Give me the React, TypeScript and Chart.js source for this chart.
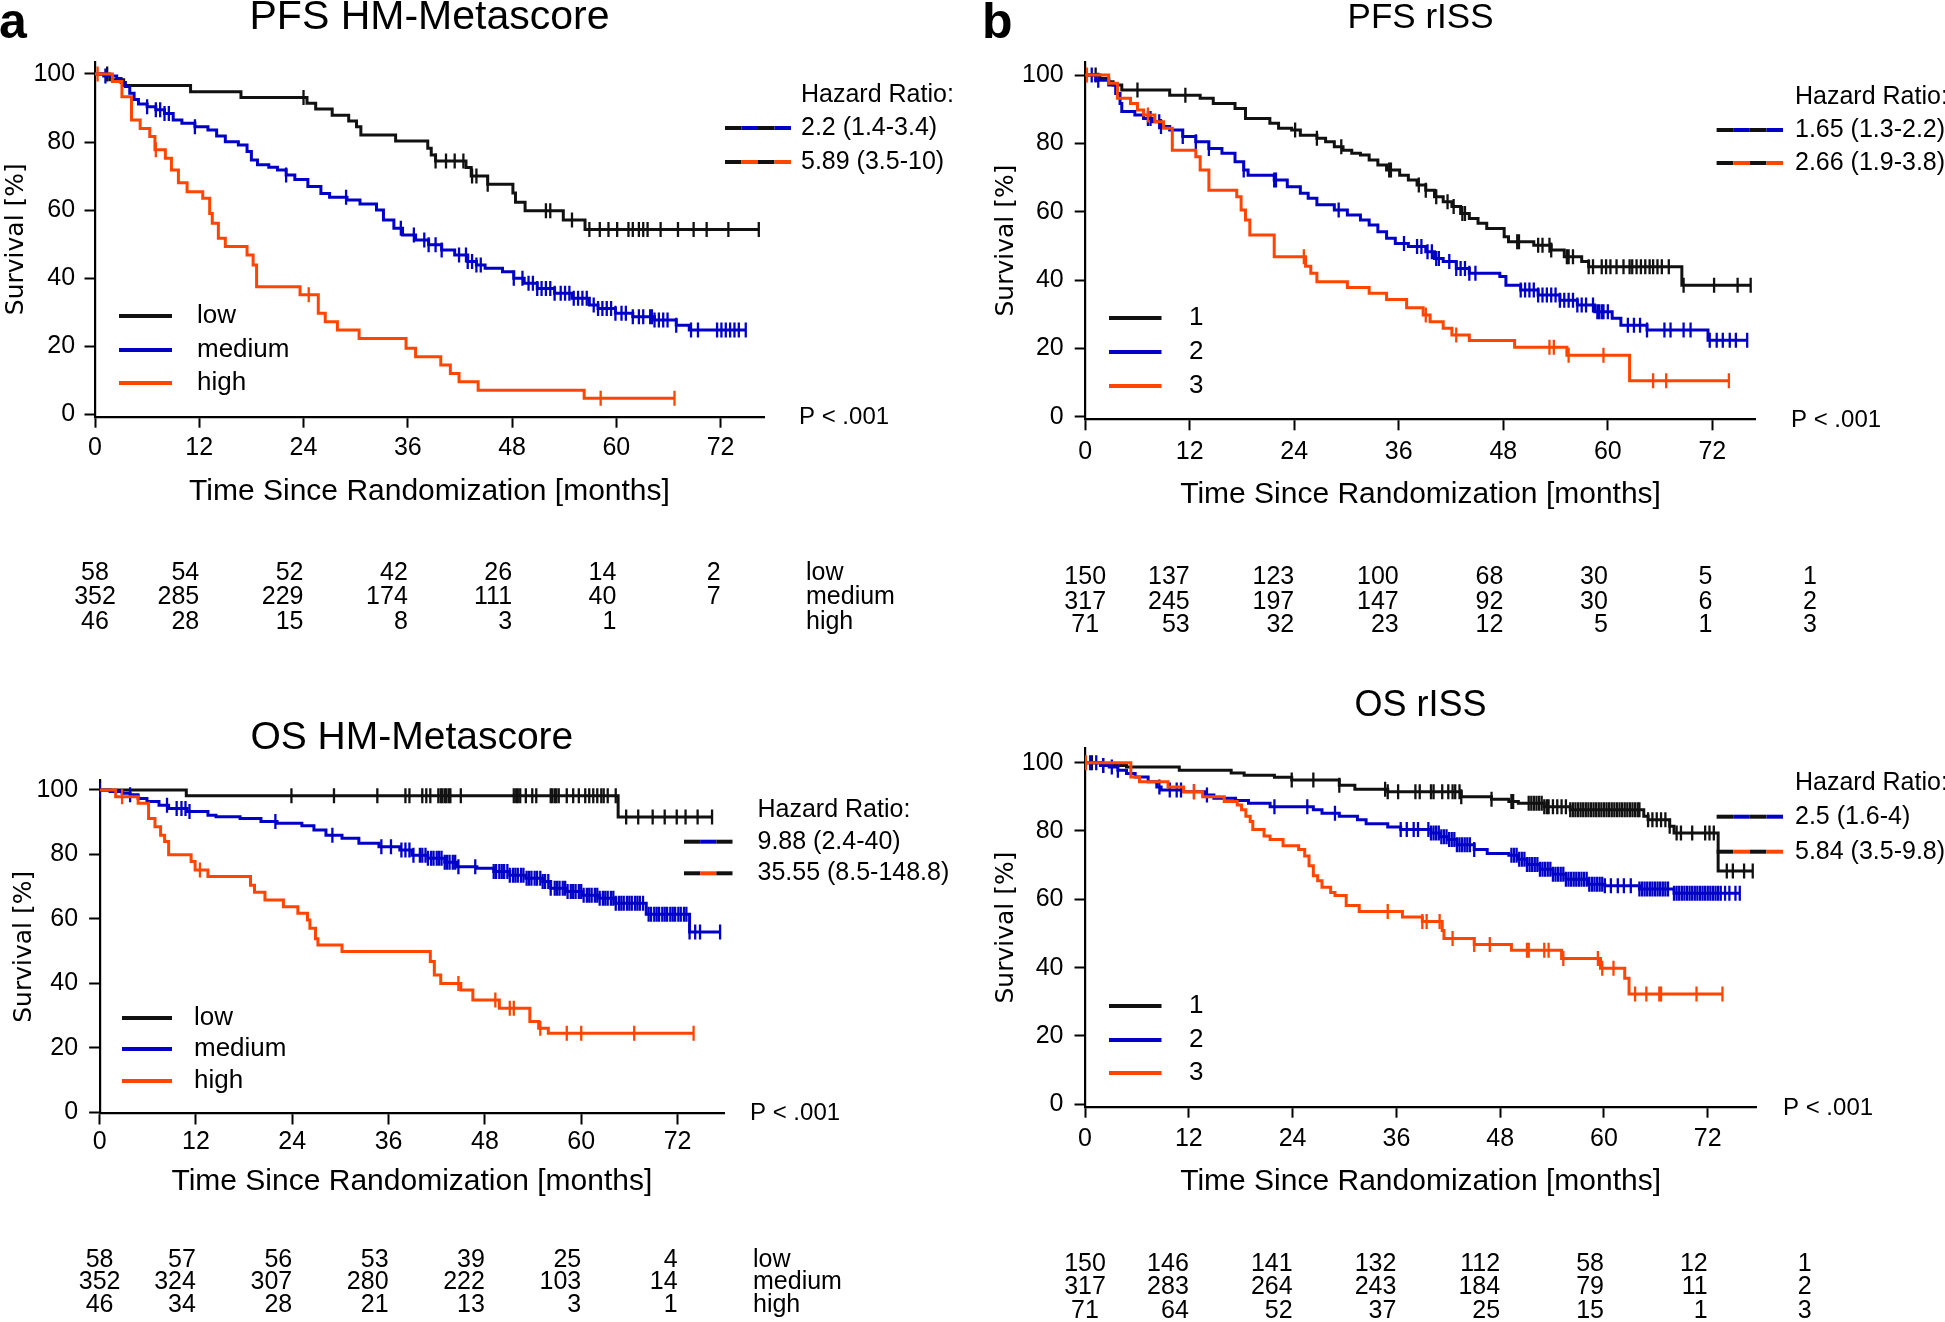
import React, { useEffect, useRef } from "react";
import { Chart, registerables } from "chart.js";

Chart.register(...registerables);

const FONT = '"Liberation Sans", Arial, Helvetica, sans-serif';
const YFONT = '"DejaVu Sans", Verdana, sans-serif';
const BLACK = "#111111";
const BLUE = "#0000c8";
const ORANGE = "#ff4500";

const X_TICKS = [0, 12, 24, 36, 48, 60, 72];
const Y_TICKS = [0, 20, 40, 60, 80, 100];
const RISK_TIMES = [0, 12, 24, 36, 48, 60, 72];
const X_LABEL = "Time Since Randomization [months]";
const Y_LABEL = "Survival [%]";

// ================= Panel a: PFS HM-Metascore =================
const A_LOW_T = [1.7, 3.3, 11.0, 16.8, 24.4, 25.4, 27.3, 29.2, 30.1, 30.6, 34.6, 38.3, 38.7, 39.2, 42.7, 43.3, 45.2, 48.1, 48.4, 49.5, 53.9, 56.4];
const A_LOW_S = [98.3, 96.6, 94.8, 93.1, 91.4, 89.7, 87.9, 86.2, 84.5, 82.1, 80.3, 78.2, 76.2, 74.4, 72.5, 70.0, 67.6, 65.0, 62.3, 59.8, 57.1, 54.3];
const A_LOW_END = 76.4;
const A_LOW_C = [1.4, 24.0, 39.2, 40.4, 41.4, 42.4, 43.4, 43.9, 45.2, 51.9, 52.4, 54.9, 56.9, 58.1, 59.1, 60.1, 61.4, 61.9, 62.6, 63.1, 63.6, 65.1, 67.1, 68.9, 70.4, 72.9, 76.4];

const A_MED_T = [1.0, 2.5, 3.0, 3.5, 4.0, 4.5, 5.0, 6.0, 7.0, 8.0, 9.0, 10.0, 11.5, 13.0, 14.0, 15.0, 16.5, 17.5, 18.0, 18.7, 20.0, 21.0, 22.0, 23.0, 24.5, 26.0, 27.0, 29.0, 30.5, 32.4, 33.2, 34.4, 35.4, 36.9, 38.4, 39.9, 41.4, 42.9, 43.9, 44.9, 46.9, 48.2, 49.4, 50.9, 52.9, 54.9, 56.9, 57.9, 59.9, 61.9, 64.4, 66.9, 68.4];
const A_MED_S = [99.4, 98.7, 97.5, 96.3, 94.3, 92.5, 91.2, 90.4, 89.5, 88.4, 86.5, 85.5, 84.5, 83.5, 81.8, 80.1, 79.1, 77.2, 74.7, 73.3, 72.6, 71.8, 70.3, 69.0, 66.9, 64.9, 63.8, 63.0, 61.8, 60.0, 57.1, 54.7, 52.7, 51.2, 49.8, 48.3, 46.8, 44.9, 43.9, 42.9, 41.9, 40.0, 38.5, 37.0, 35.6, 34.1, 32.1, 31.1, 29.7, 28.7, 27.7, 26.2, 24.8];
const A_MED_END = 74.9;
const A_MED_C = [1.2, 6.0, 7.0, 7.5, 8.0, 8.5, 11.5, 22.0, 28.9, 35.2, 36.7, 37.9, 38.4, 39.2, 39.9, 41.9, 42.7, 42.9, 43.4, 43.9, 44.4, 48.2, 49.2, 49.9, 50.4, 50.9, 51.4, 51.9, 52.4, 52.9, 53.6, 54.1, 54.6, 55.1, 55.6, 56.1, 56.6, 57.4, 57.9, 58.4, 58.9, 59.4, 59.9, 60.6, 61.1, 61.9, 62.6, 63.1, 63.9, 64.1, 64.4, 64.9, 65.4, 65.9, 66.9, 68.6, 69.4, 71.6, 72.1, 72.6, 73.1, 73.6, 74.1, 74.9];

const A_HIGH_T = [2.0, 3.1, 4.2, 5.2, 6.3, 6.9, 8.1, 8.8, 9.6, 10.6, 12.4, 13.2, 13.5, 14.2, 15.0, 17.5, 18.2, 18.6, 23.6, 25.7, 26.5, 27.9, 30.4, 35.8, 36.9, 39.8, 40.9, 41.9, 44.1, 56.3];
const A_HIGH_S = [97.8, 93.3, 86.5, 84.0, 81.6, 77.7, 75.2, 71.8, 68.0, 65.4, 63.5, 59.0, 56.1, 51.7, 49.3, 46.8, 43.9, 37.5, 35.1, 29.7, 27.2, 24.8, 22.3, 19.4, 16.9, 14.5, 12.0, 9.6, 7.1, 4.7];
const A_HIGH_END = 66.7;
const A_HIGH_C = [0.3, 7.0, 24.6, 58.2, 66.7];

const A_RISK_LOW = [58, 54, 52, 42, 26, 14, 2];
const A_RISK_MED = [352, 285, 229, 174, 111, 40, 7];
const A_RISK_HIGH = [46, 28, 15, 8, 3, 1];
const A_HR = ["Hazard Ratio:", "2.2 (1.4-3.4)", "5.89 (3.5-10)"];

// ================= Panel b: PFS rISS =================
const B1_T = [1.7, 2.7, 3.2, 4.2, 9.7, 13.2, 14.7, 17.2, 18.4, 21.2, 22.2, 23.7, 24.7, 26.6, 27.6, 28.6, 29.6, 30.6, 31.6, 32.6, 33.6, 34.6, 36.1, 37.1, 38.1, 39.1, 40.1, 41.1, 42.1, 43.1, 44.1, 45.1, 46.1, 48.1, 48.6, 51.5, 53.5, 55.0, 57.0, 57.8, 68.5];
const B1_S = [99.0, 98.0, 97.1, 95.6, 94.1, 93.2, 91.7, 90.2, 87.3, 85.9, 84.4, 83.9, 82.4, 81.5, 80.5, 79.0, 78.0, 77.1, 76.6, 75.1, 73.7, 72.2, 70.7, 69.3, 67.8, 66.3, 64.4, 62.9, 61.5, 59.5, 58.0, 56.6, 55.1, 52.7, 51.2, 50.2, 48.8, 46.8, 45.4, 43.9, 38.5];
const B1_END = 76.4;
const B1_C = [1.2, 6.0, 11.5, 24.1, 26.6, 29.4, 34.9, 35.1, 38.3, 39.1, 40.3, 41.6, 42.3, 43.3, 43.6, 49.6, 49.8, 52.0, 52.5, 53.3, 53.5, 55.3, 55.5, 56.0, 57.8, 58.3, 59.3, 59.8, 60.3, 61.0, 61.8, 62.5, 62.8, 63.3, 63.8, 64.3, 64.8, 65.2, 65.7, 66.2, 67.0, 68.7, 72.2, 74.9, 76.4];

const B2_T = [1.2, 2.7, 3.5, 4.0, 4.2, 5.7, 6.7, 7.7, 8.7, 9.7, 11.2, 12.7, 14.2, 15.7, 17.2, 18.2, 18.7, 21.7, 23.2, 24.7, 25.6, 26.6, 28.6, 30.1, 31.6, 32.6, 33.6, 34.6, 35.6, 37.1, 39.1, 40.1, 41.1, 42.6, 44.1, 47.6, 48.3, 50.0, 52.0, 54.5, 56.5, 58.5, 60.5, 61.5, 64.5, 71.5];
const B2_S = [98.5, 97.1, 94.6, 91.7, 89.3, 88.3, 87.3, 86.3, 84.9, 83.9, 82.0, 80.5, 78.5, 77.1, 74.6, 72.2, 70.7, 69.3, 67.3, 65.4, 63.9, 62.0, 60.5, 59.0, 57.6, 56.1, 54.1, 52.2, 50.7, 49.8, 48.3, 46.3, 45.4, 43.4, 42.0, 41.0, 38.5, 37.1, 35.6, 34.1, 32.7, 30.7, 28.8, 26.8, 25.4, 22.4];
const B2_END = 76.0;
const B2_C = [0.75, 1.5, 7.2, 7.5, 8.5, 8.7, 11.2, 12.7, 14.2, 18.2, 21.7, 21.9, 29.1, 36.6, 38.1, 38.6, 39.3, 39.8, 40.3, 40.6, 41.8, 42.6, 43.1, 43.6, 44.1, 44.8, 50.0, 50.5, 51.0, 51.5, 52.0, 52.5, 53.0, 53.5, 54.0, 54.5, 55.0, 55.5, 56.0, 56.5, 57.0, 57.5, 58.3, 58.8, 59.0, 59.3, 59.5, 60.0, 62.3, 63.0, 63.7, 64.5, 66.5, 67.2, 68.7, 69.5, 71.7, 72.5, 73.2, 74.0, 74.7, 76.0];

const B3_T = [2.7, 3.7, 5.2, 6.0, 6.7, 8.0, 9.0, 10.0, 12.7, 13.2, 14.2, 17.4, 17.9, 18.4, 18.9, 21.7, 25.3, 25.9, 26.6, 30.1, 32.6, 34.6, 36.9, 38.8, 39.6, 41.1, 42.1, 44.1, 49.3, 55.3, 62.5];
const B3_S = [97.6, 93.2, 91.7, 89.8, 88.3, 86.3, 84.4, 78.0, 76.1, 72.2, 66.3, 64.4, 60.5, 57.6, 53.2, 46.8, 44.0, 42.0, 39.5, 37.8, 36.1, 34.3, 31.9, 29.8, 27.8, 25.9, 23.9, 22.3, 20.3, 18.0, 10.5];
const B3_END = 73.9;
const B3_C = [0.2, 7.2, 25.1, 39.1, 42.6, 53.3, 53.8, 55.5, 59.5, 65.2, 66.7, 73.9];

const B_RISK_1 = [150, 137, 123, 100, 68, 30, 5];
const B_RISK_2 = [317, 245, 197, 147, 92, 30, 6];
const B_RISK_3 = [71, 53, 32, 23, 12, 5, 1];
const B_HR = ["Hazard Ratio:", "1.65 (1.3-2.2)", "2.66 (1.9-3.8)"];

// ================= Panel c: OS HM-Metascore =================
const C_LOW_T = [10.8, 64.6];
const C_LOW_S = [98.2, 91.6];
const C_LOW_END = 76.3;
const C_LOW_C = [0.0, 23.9, 29.2, 34.6, 38.1, 38.6, 40.2, 40.7, 41.2, 42.2, 42.5, 42.7, 43.0, 43.2, 43.5, 43.7, 45.0, 51.6, 51.9, 52.1, 52.4, 53.1, 53.9, 54.4, 56.2, 56.4, 56.7, 56.9, 57.2, 58.2, 59.0, 59.7, 60.5, 61.0, 61.5, 62.0, 62.5, 62.8, 63.3, 64.3, 65.6, 67.1, 68.9, 70.4, 71.9, 73.0, 74.5, 76.3];

const C_MED_T = [1.3, 2.8, 3.8, 4.8, 5.9, 7.4, 8.6, 10.9, 13.5, 14.5, 17.5, 20.1, 22.1, 25.2, 26.7, 28.2, 30.2, 32.3, 34.8, 37.4, 38.9, 40.9, 43.0, 44.5, 47.0, 49.1, 51.1, 53.1, 55.2, 56.2, 58.2, 60.2, 62.3, 64.3, 68.1, 73.5];
const C_MED_S = [99.5, 99.0, 98.5, 97.4, 96.4, 95.3, 94.3, 93.3, 92.2, 91.7, 91.2, 90.2, 89.7, 88.9, 87.6, 86.0, 85.0, 83.5, 82.4, 81.4, 79.8, 78.8, 77.6, 76.2, 75.7, 74.7, 73.6, 72.6, 71.6, 69.5, 68.5, 67.4, 66.4, 64.9, 61.5, 56.0];
const C_MED_END = 77.3;
const C_MED_C = [0.0, 3.8, 8.4, 9.6, 10.2, 10.7, 11.2, 21.9, 29.0, 35.1, 36.3, 37.6, 38.1, 38.6, 39.1, 39.9, 40.2, 40.6, 40.9, 41.3, 41.6, 42.0, 42.3, 42.6, 43.0, 43.3, 43.6, 44.0, 44.3, 44.7, 46.8, 49.1, 49.4, 49.8, 50.1, 50.4, 50.8, 51.1, 51.5, 51.8, 52.1, 52.5, 52.8, 53.2, 53.5, 53.8, 54.2, 54.5, 54.9, 55.2, 55.5, 55.9, 56.2, 56.7, 57.0, 57.3, 57.7, 58.0, 58.3, 58.7, 59.0, 59.3, 59.7, 60.0, 60.3, 60.7, 61.0, 61.3, 61.7, 62.0, 62.3, 62.7, 63.0, 63.3, 63.7, 64.0, 64.3, 64.7, 65.0, 65.3, 65.7, 66.0, 66.3, 66.7, 67.0, 67.3, 67.7, 68.4, 68.7, 69.1, 69.4, 69.7, 70.1, 70.4, 70.7, 71.1, 71.4, 71.7, 72.1, 72.4, 72.8, 73.1, 73.5, 74.2, 74.8, 77.3];

const C_HIGH_T = [2.0, 4.8, 6.1, 6.9, 7.6, 8.1, 8.6, 11.4, 11.9, 13.5, 18.8, 19.3, 20.6, 22.9, 24.7, 25.9, 26.2, 26.9, 27.2, 30.2, 41.2, 41.7, 42.5, 45.0, 46.5, 49.8, 53.6, 54.7, 55.9];
const C_HIGH_S = [97.9, 95.9, 91.2, 88.6, 86.0, 84.0, 79.9, 77.8, 75.2, 73.2, 70.5, 68.3, 65.9, 63.8, 61.8, 59.7, 57.1, 53.9, 51.9, 49.9, 46.8, 42.6, 40.0, 38.0, 34.9, 32.3, 28.2, 26.1, 24.6];
const C_HIGH_END = 74.0;
const C_HIGH_C = [2.8, 12.5, 44.7, 49.3, 51.1, 51.6, 54.9, 58.2, 60.0, 66.6, 74.0];

const C_RISK_LOW = [58, 57, 56, 53, 39, 25, 4];
const C_RISK_MED = [352, 324, 307, 280, 222, 103, 14];
const C_RISK_HIGH = [46, 34, 28, 21, 13, 3, 1];
const C_HR = ["Hazard Ratio:", "9.88 (2.4-40)", "35.55 (8.5-148.8)"];

// ================= Panel d: OS rISS =================
const D1_T = [1.8, 4.8, 10.9, 16.9, 18.4, 21.9, 23.9, 29.4, 31.2, 35.0, 43.5, 47.0, 49.0, 50.1, 53.1, 56.1, 64.6, 65.1, 67.6, 68.1, 73.2];
const D1_S = [99.2, 98.7, 97.8, 97.0, 96.3, 95.7, 94.9, 93.4, 92.2, 91.5, 90.0, 89.3, 88.6, 88.1, 87.1, 86.2, 84.3, 83.3, 81.4, 79.4, 68.3];
const D1_END = 77.2;
const D1_C = [0.8, 2.1, 23.9, 26.4, 29.4, 34.7, 35.0, 36.2, 38.2, 38.7, 40.0, 40.3, 41.3, 42.0, 42.5, 42.8, 43.3, 43.5, 47.0, 49.3, 49.5, 51.3, 51.6, 51.9, 52.2, 52.5, 52.8, 53.1, 53.4, 53.6, 54.1, 54.6, 55.1, 55.6, 56.1, 56.4, 56.7, 57.0, 57.3, 57.6, 57.9, 58.2, 58.5, 58.8, 59.1, 59.4, 59.7, 60.0, 60.3, 60.6, 60.9, 61.2, 61.5, 61.8, 62.1, 62.4, 62.7, 63.0, 63.3, 63.6, 63.9, 64.1, 65.1, 65.6, 66.1, 66.6, 67.1, 67.6, 68.4, 68.9, 70.2, 71.7, 72.2, 72.7, 74.2, 74.9, 76.2, 77.2];

const D2_T = [1.8, 2.8, 3.8, 4.8, 5.8, 7.3, 8.3, 8.8, 11.4, 13.9, 14.9, 17.4, 18.9, 21.4, 26.4, 27.4, 29.4, 31.5, 32.5, 35.0, 36.5, 40.0, 41.0, 42.0, 43.0, 45.0, 46.5, 49.0, 50.1, 51.1, 52.6, 54.1, 55.6, 58.1, 60.1, 64.1, 68.1];
const D2_S = [99.2, 98.7, 97.8, 96.8, 95.8, 94.4, 92.9, 92.0, 91.5, 90.5, 89.6, 88.9, 88.1, 87.1, 86.2, 85.2, 84.3, 83.3, 82.1, 81.2, 80.4, 79.4, 78.3, 77.5, 76.0, 74.6, 73.4, 72.9, 71.7, 70.2, 68.8, 67.3, 65.9, 64.4, 64.0, 63.0, 61.8];
const D2_END = 75.7;
const D2_C = [0.6, 1.3, 2.1, 3.1, 3.8, 8.6, 9.8, 10.6, 11.1, 12.6, 14.1, 21.9, 25.7, 28.9, 36.5, 37.2, 38.0, 38.5, 39.7, 40.0, 40.3, 40.6, 40.9, 41.2, 41.5, 41.8, 42.1, 42.4, 42.7, 43.0, 43.3, 43.6, 43.9, 44.2, 44.5, 45.0, 49.3, 49.6, 49.9, 50.2, 50.5, 50.8, 51.1, 51.4, 51.7, 52.0, 52.3, 52.6, 52.9, 53.2, 53.5, 53.8, 54.1, 54.4, 54.7, 55.0, 55.3, 55.6, 55.9, 56.2, 56.5, 56.8, 57.1, 57.4, 57.7, 58.0, 58.3, 58.6, 58.9, 59.2, 59.5, 59.8, 60.1, 60.8, 61.6, 62.3, 63.1, 64.1, 64.4, 64.7, 65.0, 65.3, 65.6, 65.9, 66.2, 66.5, 66.8, 67.1, 67.4, 68.1, 68.4, 68.7, 69.0, 69.3, 69.6, 69.9, 70.2, 70.5, 70.8, 71.1, 71.4, 71.7, 72.0, 72.3, 72.6, 72.9, 73.2, 73.5, 74.0, 74.5, 75.2, 75.7];

const D3_T = [5.3, 6.3, 9.6, 11.4, 13.6, 16.1, 17.6, 18.1, 18.6, 19.1, 19.4, 20.7, 21.4, 22.9, 24.7, 25.4, 25.9, 26.4, 26.9, 27.4, 28.4, 28.9, 30.2, 31.7, 36.7, 39.0, 41.3, 41.5, 45.0, 49.3, 55.1, 59.6, 62.4, 62.9];
const D3_S = [95.8, 94.4, 92.9, 91.5, 90.0, 88.6, 87.6, 86.2, 84.3, 82.8, 80.4, 78.5, 77.5, 75.7, 74.6, 72.7, 69.8, 66.9, 65.4, 63.5, 62.0, 61.1, 58.2, 56.4, 54.8, 53.5, 50.9, 48.5, 46.8, 45.1, 42.7, 39.8, 36.9, 32.3];
const D3_END = 73.7;
const D3_C = [0.1, 12.6, 35.0, 39.0, 39.5, 41.0, 42.5, 45.0, 46.8, 51.1, 51.3, 53.1, 53.6, 55.3, 59.3, 59.8, 61.1, 63.6, 64.9, 66.4, 66.6, 70.7, 73.7];

const D_RISK_1 = [150, 146, 141, 132, 112, 58, 12];
const D_RISK_2 = [317, 283, 264, 243, 184, 79, 11];
const D_RISK_3 = [71, 64, 52, 37, 25, 15, 1];
const D_HR = ["Hazard Ratio:", "2.5 (1.6-4)", "5.84 (3.5-9.8)"];

const HM_LABELS = ["low", "medium", "high"];
const ISS_LABELS = ["1", "2", "3"];

// ================= helpers =================
function survAt(t: number[], s: number[], x: number) {
  let v = 100;
  for (let i = 0; i < t.length; i++) if (t[i] <= x) v = s[i];
  return v;
}

function curve(t: number[], s: number[], end: number, c: number[], color: string) {
  return { t, s, end, c, color };
}

function stepData(cv: any) {
  const pts = [{ x: 0, y: 100 }];
  cv.t.forEach((tt: number, i: number) => pts.push({ x: tt, y: cv.s[i] }));
  pts.push({ x: cv.end, y: cv.s[cv.s.length - 1] });
  return pts;
}

const XH = 100;

const PANELS: any[] = [
  {
    L: 0, T: 0, W: 972, H: 660,
    cl: 95, cr: 764, ct: 61.7, cb: 416.7, xmax: 77, ymin: -0.7, ymax: 103.6,
    title: "PFS HM-Metascore", titleY: 18, titleSize: 41,
    letter: "a", letterX: -1, letterY: 38,
    yTitleX: 16, yTickPad: 9.4, xTickPad: 7.8, xTitleY: 492,
    curves: [
      curve(A_LOW_T, A_LOW_S, A_LOW_END, A_LOW_C, BLACK),
      curve(A_MED_T, A_MED_S, A_MED_END, A_MED_C, BLUE),
      curve(A_HIGH_T, A_HIGH_S, A_HIGH_END, A_HIGH_C, ORANGE),
    ],
    legendLabels: HM_LABELS, legendX0: 119, legendX1: 172, legendTX: 197, legendY: [316, 350, 383],
    hrTexts: A_HR, hrX: 801, hrY: [95, 128, 162], hrSX0: 725, hrSX1: 791, hrSegs: 4,
    pX: 799, pY: 417,
    risk: [A_RISK_LOW, A_RISK_MED, A_RISK_HIGH], riskY: [572.7, 596.7, 621.7], riskLabels: HM_LABELS, riskLabelX: 806,
  },
  {
    L: 972, T: 0, W: 973, H: 660,
    cl: 1085.2, cr: 1755.9, ct: 61.7, cb: 419.3, xmax: 77, ymin: -0.76, ymax: 103.9,
    title: "PFS rISS", titleY: 18, titleSize: 35,
    letter: "b", letterX: 982, letterY: 38,
    yTitleX: 1006, yTickPad: 11, xTickPad: 8.9, xTitleY: 495,
    curves: [
      curve(B1_T, B1_S, B1_END, B1_C, BLACK),
      curve(B2_T, B2_S, B2_END, B2_C, BLUE),
      curve(B3_T, B3_S, B3_END, B3_C, ORANGE),
    ],
    legendLabels: ISS_LABELS, legendX0: 1109, legendX1: 1161.5, legendTX: 1189, legendY: [318, 352, 386],
    hrTexts: B_HR, hrX: 1795, hrY: [96.7, 130, 163], hrSX0: 1716.6, hrSX1: 1783, hrSegs: 4,
    pX: 1791, pY: 420,
    risk: [B_RISK_1, B_RISK_2, B_RISK_3], riskY: [577, 601.7, 625], riskLabels: ISS_LABELS, riskLabelX: null,
  },
  {
    L: 0, T: 680, W: 972, H: 642,
    cl: 99.6, cr: 724.1, ct: 780, cb: 1113.5, xmax: 77.8, ymin: -0.31, ymax: 103.1,
    title: "OS HM-Metascore", titleY: 738.3, titleSize: 39,
    letter: null,
    yTitleX: 24, yTickPad: 11, xTickPad: 5.5, xTitleY: 1182,
    curves: [
      curve(C_LOW_T, C_LOW_S, C_LOW_END, C_LOW_C, BLACK),
      curve(C_MED_T, C_MED_S, C_MED_END, C_MED_C, BLUE),
      curve(C_HIGH_T, C_HIGH_S, C_HIGH_END, C_HIGH_C, ORANGE),
    ],
    legendLabels: HM_LABELS, legendX0: 122, legendX1: 172, legendTX: 194, legendY: [1018, 1049, 1081],
    hrTexts: C_HR, hrX: 757.5, hrY: [810, 841.7, 873.3], hrSX0: 684, hrSX1: 732.5, hrSegs: 3,
    pX: 750, pY: 1113,
    risk: [C_RISK_LOW, C_RISK_MED, C_RISK_HIGH], riskY: [1260, 1282, 1305], riskLabels: HM_LABELS, riskLabelX: 753,
  },
  {
    L: 972, T: 680, W: 973, H: 642,
    cl: 1085, cr: 1756.2, ct: 748.3, cb: 1106.7, xmax: 77.6, ymin: -0.7, ymax: 104.2,
    title: "OS rISS", titleY: 706, titleSize: 36,
    letter: null,
    yTitleX: 1006, yTickPad: 11, xTickPad: 8.5, xTitleY: 1182,
    curves: [
      curve(D1_T, D1_S, D1_END, D1_C, BLACK),
      curve(D2_T, D2_S, D2_END, D2_C, BLUE),
      curve(D3_T, D3_S, D3_END, D3_C, ORANGE),
    ],
    legendLabels: ISS_LABELS, legendX0: 1109, legendX1: 1161.5, legendTX: 1189, legendY: [1006, 1040, 1073],
    hrTexts: D_HR, hrX: 1795, hrY: [783.3, 816.7, 851.7], hrSX0: 1716.6, hrSX1: 1783, hrSegs: 4,
    pX: 1783, pY: 1108,
    risk: [D_RISK_1, D_RISK_2, D_RISK_3], riskY: [1264, 1287.5, 1311], riskLabels: ISS_LABELS, riskLabelX: null,
  },
];

function decorPlugin(p: any) {
  return {
    id: "decor",
    afterDraw(chart: any) {
      const ctx = chart.ctx;
      const xs = chart.scales.x;
      const ca = chart.chartArea;
      const X = (v: number) => v - p.L;
      const Y = (v: number) => v - p.T;
      ctx.save();
      ctx.fillStyle = "#000";
      ctx.textBaseline = "middle";
      // title
      ctx.font = `${p.titleSize}px ${FONT}`;
      ctx.textAlign = "center";
      ctx.fillText(p.title, (ca.left + ca.right) / 2, Y(p.titleY));
      // panel letter
      if (p.letter) {
        ctx.font = `bold 50px ${FONT}`;
        ctx.textAlign = "left";
        ctx.textBaseline = "alphabetic";
        ctx.fillText(p.letter, X(p.letterX), Y(p.letterY));
        ctx.textBaseline = "middle";
      }
      // legend
      ctx.lineCap = "butt";
      p.legendLabels.forEach((lab: string, i: number) => {
        ctx.strokeStyle = p.curves[i].color;
        ctx.lineWidth = 4;
        ctx.beginPath();
        ctx.moveTo(X(p.legendX0), Y(p.legendY[i]));
        ctx.lineTo(X(p.legendX1), Y(p.legendY[i]));
        ctx.stroke();
        ctx.font = `26px ${FONT}`;
        ctx.textAlign = "left";
        ctx.fillText(lab, X(p.legendTX), Y(p.legendY[i]));
      });
      // hazard ratio block
      ctx.font = `25px ${FONT}`;
      ctx.textAlign = "left";
      p.hrTexts.forEach((t: string, i: number) => ctx.fillText(t, X(p.hrX), Y(p.hrY[i])));
      [BLUE, ORANGE].forEach((col, k) => {
        const y = Y(p.hrY[k + 1]);
        const seg = (p.hrSX1 - p.hrSX0) / p.hrSegs;
        for (let j = 0; j < p.hrSegs; j++) {
          ctx.strokeStyle = j % 2 === 0 ? BLACK : col;
          ctx.lineWidth = 4;
          ctx.beginPath();
          ctx.moveTo(X(p.hrSX0 + j * seg), y);
          ctx.lineTo(X(p.hrSX0 + (j + 1) * seg), y);
          ctx.stroke();
        }
      });
      // p value
      ctx.font = `24px ${FONT}`;
      ctx.textAlign = "left";
      ctx.fillText("P < .001", X(p.pX), Y(p.pY));
      // number at risk table
      ctx.font = `25px ${FONT}`;
      p.risk.forEach((row: number[], r: number) => {
        const y = Y(p.riskY[r]);
        row.forEach((n: number, j: number) => {
          const px = xs.getPixelForValue(RISK_TIMES[j]);
          ctx.textAlign = j === 0 ? "center" : "right";
          ctx.fillText(String(n), px, y);
        });
        if (p.riskLabelX != null) {
          ctx.textAlign = "left";
          ctx.fillText(p.riskLabels[r], X(p.riskLabelX), y);
        } else {
          ctx.textAlign = "right";
          ctx.fillText(p.riskLabels[r], xs.getPixelForValue(84), y);
        }
      });
      ctx.restore();
    },
  };
}

function buildConfig(p: any): any {
  const datasets: any[] = [];
  [...p.curves].reverse().forEach((cv: any) => {
    datasets.push({
      type: "scatter",
      data: cv.c.map((x: number) => ({ x, y: survAt(cv.t, cv.s, x) })),
      showLine: false,
      pointStyle: "line",
      pointRotation: 90,
      pointRadius: 7.5,
      pointHoverRadius: 7.5,
      pointBorderWidth: 2.3,
      pointBorderColor: cv.color,
      pointBackgroundColor: cv.color,
      borderColor: cv.color,
      backgroundColor: cv.color,
    });
    datasets.push({
      type: "line",
      data: stepData(cv),
      borderColor: cv.color,
      backgroundColor: cv.color,
      borderWidth: 3,
      pointRadius: 0,
      pointHoverRadius: 0,
      stepped: "before",
      fill: false,
      tension: 0,
    });
  });

  const tickFont = { family: FONT, size: 25, lineHeight: 1 };
  return {
    type: "scatter",
    data: { datasets },
    plugins: [decorPlugin(p)],
    options: {
      responsive: false,
      maintainAspectRatio: false,
      animation: false,
      devicePixelRatio: 1,
      events: [],
      layout: {
        padding: {
          left: 0,
          top: p.ct - p.T,
          right: p.L + p.W - p.cr,
          bottom: p.H - (p.cb - p.T) - XH,
        },
      },
      plugins: {
        legend: { display: false },
        tooltip: { enabled: false },
        title: { display: false },
      },
      scales: {
        x: {
          type: "linear",
          min: 0,
          max: p.xmax,
          afterBuildTicks: (s: any) => {
            s.ticks = X_TICKS.map((v) => ({ value: v }));
          },
          afterFit: (s: any) => {
            s.height = XH;
          },
          ticks: {
            font: tickFont,
            color: "#000",
            padding: p.xTickPad,
            autoSkip: false,
            maxRotation: 0,
            minRotation: 0,
            callback: (v: any) => String(v),
          },
          grid: {
            display: true,
            drawOnChartArea: false,
            drawTicks: true,
            tickLength: 11,
            tickWidth: 2,
            tickColor: "#000",
            color: "#000",
          },
          border: { display: true, color: "#000", width: 2.2 },
          title: {
            display: true,
            text: X_LABEL,
            color: "#000",
            font: { family: FONT, size: 30, lineHeight: 1 },
            padding: { top: 0, bottom: p.cb + XH - 15 - p.xTitleY },
          },
        },
        y: {
          type: "linear",
          min: p.ymin,
          max: p.ymax,
          afterBuildTicks: (s: any) => {
            s.ticks = Y_TICKS.map((v) => ({ value: v }));
          },
          afterFit: (s: any) => {
            s.width = p.cl - p.L;
          },
          ticks: {
            font: tickFont,
            color: "#000",
            padding: p.yTickPad,
            autoSkip: false,
            callback: (v: any) => String(v),
          },
          grid: {
            display: true,
            drawOnChartArea: false,
            drawTicks: true,
            tickLength: 10.5,
            tickWidth: 2,
            tickColor: "#000",
            color: "#000",
          },
          border: { display: true, color: "#000", width: 2.2 },
          title: {
            display: true,
            text: Y_LABEL,
            color: "#000",
            font: { family: YFONT, size: 25, lineHeight: 1 },
            padding: { top: p.yTitleX - p.L - 12.5, bottom: 0 },
          },
        },
      },
    },
  };
}

function Panel({ cfg }: { cfg: any }) {
  const ref = useRef<HTMLCanvasElement | null>(null);
  useEffect(() => {
    if (!ref.current) return;
    const chart = new Chart(ref.current, buildConfig(cfg));
    return () => chart.destroy();
  }, [cfg]);
  return (
    <canvas
      ref={ref}
      width={cfg.W}
      height={cfg.H}
      style={{ position: "absolute", left: cfg.L, top: cfg.T, width: cfg.W, height: cfg.H }}
    />
  );
}

export default function App() {
  return (
    <div
      style={{
        position: "absolute",
        left: 0,
        top: 0,
        width: 1945,
        height: 1322,
        background: "#ffffff",
        overflow: "hidden",
      }}
    >
      {PANELS.map((p, i) => (
        <Panel key={i} cfg={p} />
      ))}
    </div>
  );
}
